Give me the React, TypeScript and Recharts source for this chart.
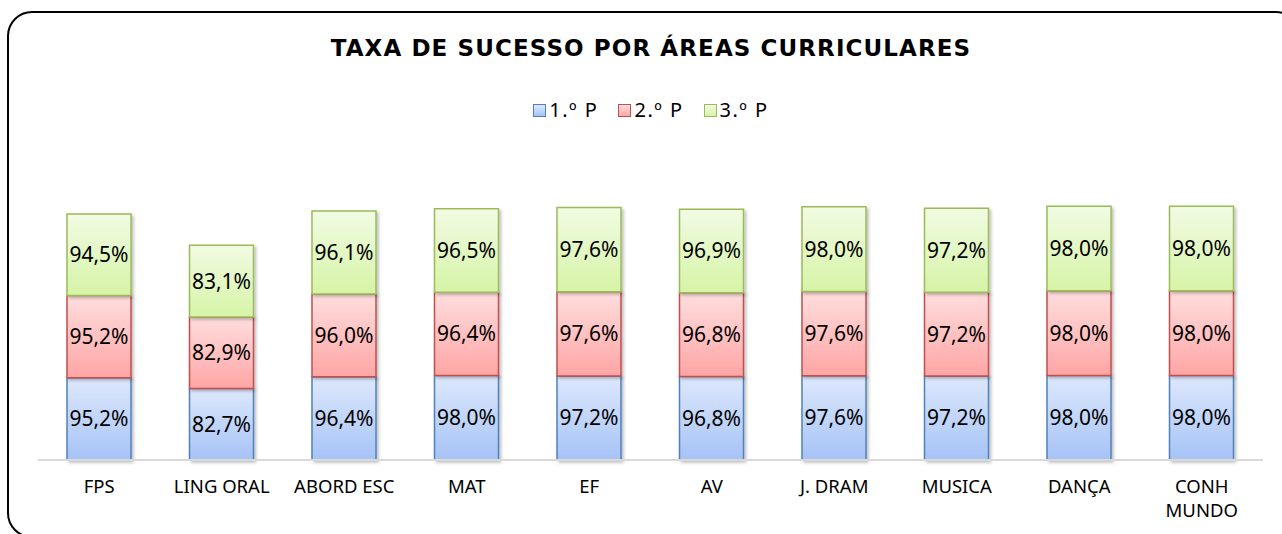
import { BarChart, Bar, XAxis, YAxis, LabelList, Text } from 'recharts';

const categories = ['FPS', 'LING ORAL', 'ABORD ESC', 'MAT', 'EF', 'AV', 'J. DRAM', 'MUSICA', 'DANÇA', 'CONH MUNDO'];
const p1 = [95.2, 82.7, 96.4, 98.0, 97.2, 96.8, 97.6, 97.2, 98.0, 98.0];
const p2 = [95.2, 82.9, 96.0, 96.4, 97.6, 96.8, 97.6, 97.2, 98.0, 98.0];
const p3 = [94.5, 83.1, 96.1, 96.5, 97.6, 96.9, 98.0, 97.2, 98.0, 98.0];
const seriesNames = ['1.º P', '2.º P', '3.º P'];

const data = categories.map((name, i) => ({ name, p1: p1[i], p2: p2[i], p3: p3[i] }));

const FONT = '"Noto Sans", "DejaVu Sans", sans-serif';
const STYLES = [
  { key: 'p1', stroke: '#4f81bd', top: '#dde8fc', bottom: '#a6c3f6', id: 'gBlue' },
  { key: 'p2', stroke: '#c0504d', top: '#ffdede', bottom: '#ffa5a5', id: 'gRed' },
  { key: 'p3', stroke: '#9bbb59', top: '#f1fbe3', bottom: '#d6f4a6', id: 'gGreen' },
];

const fmt = (v: any) => Number(v).toFixed(1).replace('.', ',') + '%';

function Tick(props: any) {
  const { x, y, payload } = props;
  return (
    <Text
      x={x}
      y={y + 12}
      width={108}
      textAnchor="middle"
      verticalAnchor="start"
      lineHeight={24}
      style={{ fontFamily: FONT, fontSize: 18.5, fill: '#000' }}
    >
      {payload.value}
    </Text>
  );
}

export default function App() {
  return (
    <div style={{ position: 'absolute', left: 0, top: 0, width: 1282, height: 534, background: '#fff', overflow: 'hidden', fontFamily: FONT }}>
      <div
        style={{
          position: 'absolute', left: 7, top: 11, width: 1290, height: 523,
          border: '2px solid #000', borderRadius: 25,
        }}
      />
      <div
        style={{
          position: 'absolute', left: 0, width: 1302, top: 36, lineHeight: '24px', textAlign: 'center',
          fontFamily: '"DejaVu Sans", sans-serif', fontSize: 23, fontWeight: 'bold', letterSpacing: 1.1, color: '#000',
        }}
      >
        TAXA DE SUCESSO POR ÁREAS CURRICULARES
      </div>
      <div
        style={{
          position: 'absolute', left: 0, width: 1302, top: 98, lineHeight: '24px', display: 'flex',
          justifyContent: 'center', fontSize: 20, letterSpacing: 1.5, color: '#000',
        }}
      >
        {seriesNames.map((n, i) => (
          <div key={n} style={{ display: 'flex', alignItems: 'center', marginRight: i < 2 ? 20 : 0 }}>
            <span
              style={{
                display: 'inline-block', width: 11, height: 11, marginRight: 3,
                border: `1.5px solid ${STYLES[i].stroke}`,
                background: `linear-gradient(${STYLES[i].top}, ${STYLES[i].bottom})`,
              }}
            />
            <span>{n}</span>
          </div>
        ))}
      </div>
      <div style={{ position: 'absolute', left: 0, top: 0 }}>
        <BarChart width={1282} height={534} data={data} margin={{ top: 201, right: 19, bottom: 24, left: 38 }} barSize={64}>
          <defs>
            {STYLES.map((s) => (
              <linearGradient key={s.id} id={s.id} x1="0" y1="0" x2="0" y2="1">
                <stop offset="0%" stopColor={s.top} />
                <stop offset="100%" stopColor={s.bottom} />
              </linearGradient>
            ))}
            <filter id="shadow" x="-10%" y="-10%" width="130%" height="130%">
              <feDropShadow dx="2" dy="2" stdDeviation="1.5" floodColor="#000" floodOpacity="0.25" />
            </filter>
          </defs>
          <XAxis
            dataKey="name"
            height={50}
            axisLine={{ stroke: '#d9d9d9', strokeWidth: 2 }}
            tickLine={false}
            interval={0}
            tick={<Tick />}
          />
          <YAxis hide domain={[0, 300]} />
          {STYLES.map((s) => (
            <Bar
              key={s.key}
              dataKey={s.key}
              stackId="a"
              fill={`url(#${s.id})`}
              stroke={s.stroke}
              strokeWidth={1.5}
              isAnimationActive={false}
              style={{ filter: 'url(#shadow)' }}
            >
              <LabelList
                dataKey={s.key}
                position="center"
                formatter={fmt}
                style={{ fontFamily: FONT, fontSize: 21, fill: '#000' }}
              />
            </Bar>
          ))}
        </BarChart>
      </div>
    </div>
  );
}
